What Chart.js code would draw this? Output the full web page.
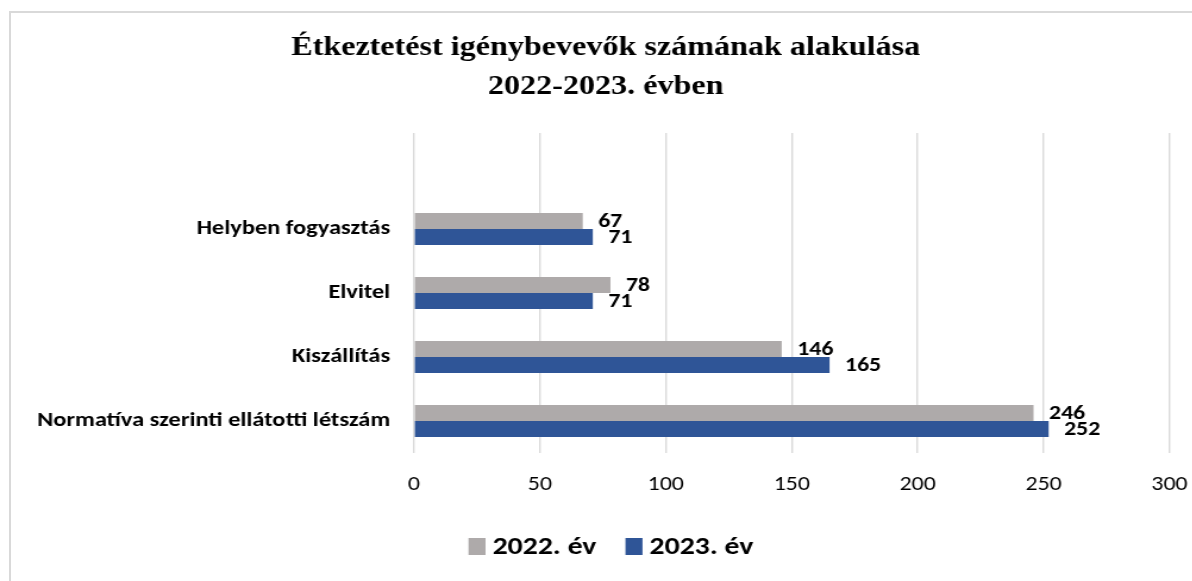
<!DOCTYPE html>
<html lang="hu">
<head>
<meta charset="utf-8">
<title>Étkeztetést igénybevevők számának alakulása</title>
<script src="https://cdn.jsdelivr.net/npm/chart.js@4.4.1/dist/chart.umd.min.js"></script>
<style>
  html, body { margin: 0; padding: 0; background: #fff; overflow: hidden; }
  #wrap { position: relative; width: 1192px; height: 581px; overflow: hidden; }
  #frame {
    position: absolute; left: 9px; top: 11px; width: 1300px; height: 700px;
    border: 2px solid #d9d9d9; box-sizing: border-box;
  }
  /* the source chart is stretched horizontally, so the canvas is too */
  #holder {
    position: absolute; left: 0; top: 0; width: 1018px; height: 581px;
    transform: scaleX(1.19); transform-origin: 0 0;
  }
</style>
</head>
<body>
<div id="wrap">
  <div id="frame"></div>
  <div id="holder"><canvas id="chart"></canvas></div>
</div>
<script>
// Data (top to bottom; first slot is an empty category, as in the source chart)
const categories = ['', 'Helyben fogyasztás', 'Elvitel', 'Kiszállítás', 'Normatíva szerinti ellátotti létszám'];
const values2022 = [null, 67, 78, 146, 246];
const values2023 = [null, 71, 71, 165, 252];
const seriesNames = ['2022. év', '2023. év'];
const xTicks = [0, 50, 100, 150, 200, 250, 300];
const titleLines = ['Étkeztetést igénybevevők számának alakulása', '2022-2023. évben'];

const SANS = 'Carlito, Lato, "Open Sans", sans-serif';

// Two-line serif title, drawn at fixed baselines
const chartTitle = {
  id: 'chartTitle',
  afterDraw(chart) {
    const ctx = chart.ctx;
    ctx.save();
    ctx.font = 'bold 27px "Liberation Serif", "Times New Roman", serif';
    ctx.fillStyle = '#000';
    ctx.textAlign = 'center';
    ctx.textBaseline = 'alphabetic';
    const cx = chart.width / 2;
    ctx.fillText(titleLines[0], cx, 55);
    ctx.fillText(titleLines[1], cx, 94);
    ctx.restore();
  },
};

// Bold value next to each bar end
const valueLabels = {
  id: 'valueLabels',
  afterDatasetsDraw(chart) {
    const ctx = chart.ctx;
    ctx.save();
    ctx.font = `bold 20px ${SANS}`;
    ctx.fillStyle = '#000';
    ctx.textAlign = 'left';
    ctx.textBaseline = 'middle';
    chart.data.datasets.forEach((ds, i) => {
      chart.getDatasetMeta(i).data.forEach((bar, j) => {
        const v = ds.data[j];
        if (v == null) return;
        ctx.fillText(String(v), bar.x + 13, bar.y + 1);
      });
    });
    ctx.restore();
  },
};

// Legend with tight box-to-text spacing (Excel style)
const bottomLegend = {
  id: 'bottomLegend',
  afterDraw(chart) {
    const ctx = chart.ctx;
    const boxW = 14.3, boxH = 17, gap = 5.9, itemGap = 24.4;
    const cy = 546.5, cx = 513.4;
    ctx.save();
    ctx.font = `bold 25px ${SANS}`;
    ctx.textBaseline = 'middle';
    ctx.textAlign = 'left';
    const items = chart.data.datasets.map((ds) => ({
      text: ds.label, color: ds.backgroundColor, w: ctx.measureText(ds.label).width,
    }));
    const total = items.reduce((s, it) => s + boxW + gap + it.w, 0) + itemGap * (items.length - 1);
    let x = cx - total / 2;
    items.forEach((it) => {
      ctx.fillStyle = it.color;
      ctx.fillRect(x, cy - boxH / 2, boxW, boxH);
      ctx.fillStyle = '#000';
      ctx.fillText(it.text, x + boxW + gap, cy + 1);
      x += boxW + gap + it.w + itemGap;
    });
    ctx.restore();
  },
};

new Chart(document.getElementById('chart'), {
  type: 'bar',
  data: {
    labels: categories,
    datasets: [
      { label: seriesNames[0], data: values2022, backgroundColor: '#AEAAAA' },
      { label: seriesNames[1], data: values2023, backgroundColor: '#2F5597' },
    ],
  },
  options: {
    indexAxis: 'y',
    responsive: true,
    maintainAspectRatio: false,
    animation: false,
    categoryPercentage: 0.5,
    barPercentage: 1.0,
    layout: { padding: { left: 28, right: 34.8, top: 133, bottom: 55.5 } },
    plugins: {
      title: { display: false },
      legend: { display: false },
      tooltip: { enabled: false },
    },
    scales: {
      x: {
        min: 0,
        max: 300,
        afterBuildTicks: (scale) => { scale.ticks = xTicks.map((v) => ({ value: v })); },
        afterFit: (scale) => { scale.height = 72.5; },
        grid: { color: '#d9d9d9', lineWidth: 1.4, drawTicks: false },
        border: { display: false },
        ticks: { color: '#000', padding: 20, font: { family: SANS, size: 20 } },
      },
      y: {
        afterFit: (scale) => { scale.width = 347.9 - 28; },
        grid: { display: false, drawTicks: false },
        border: { display: false },
        ticks: { color: '#000', padding: 20, font: { family: SANS, size: 20.5, weight: 'bold' } },
      },
    },
  },
  plugins: [valueLabels, chartTitle, bottomLegend],
});
</script>
</body>
</html>
